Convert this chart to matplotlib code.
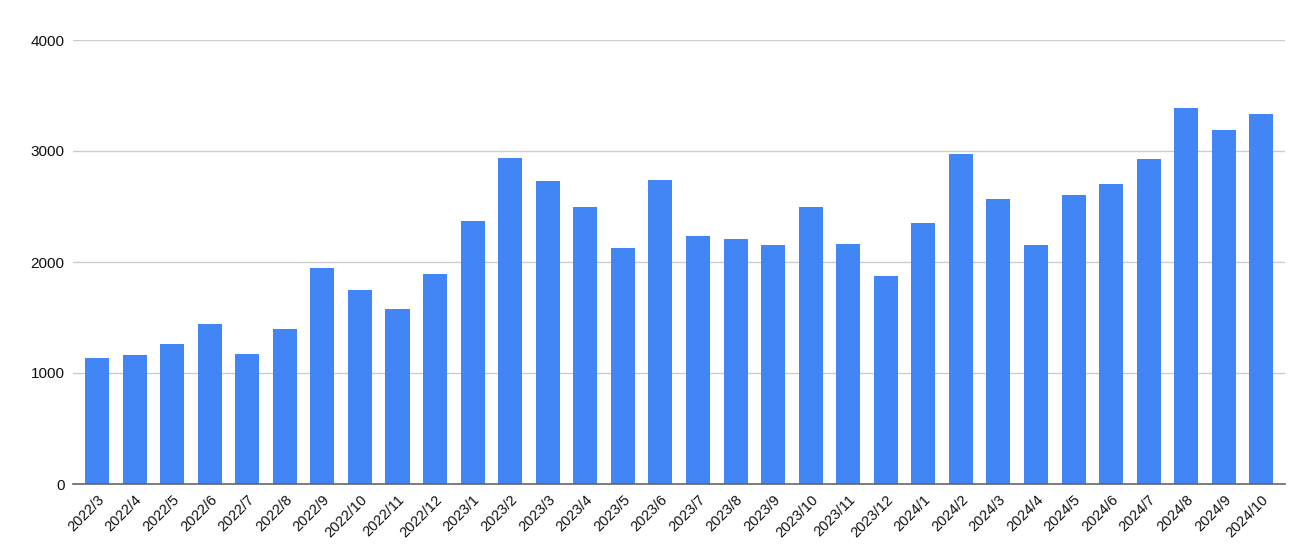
import matplotlib
matplotlib.use("Agg")
import matplotlib.pyplot as plt

months = ["2022/3", "2022/4", "2022/5", "2022/6", "2022/7", "2022/8", "2022/9", "2022/10",
          "2022/11", "2022/12", "2023/1", "2023/2", "2023/3", "2023/4", "2023/5", "2023/6",
          "2023/7", "2023/8", "2023/9", "2023/10", "2023/11", "2023/12", "2024/1", "2024/2",
          "2024/3", "2024/4", "2024/5", "2024/6", "2024/7", "2024/8", "2024/9", "2024/10"]
values = [1135, 1160, 1260, 1440, 1170, 1400, 1950, 1750,
          1580, 1890, 2370, 2940, 2730, 2500, 2130, 2740,
          2230, 2210, 2150, 2500, 2160, 1870, 2350, 2970,
          2570, 2150, 2600, 2700, 2930, 3390, 3190, 3330]
y_ticks = [0, 1000, 2000, 3000, 4000]

plt.rcParams['font.family'] = ['Liberation Sans', 'DejaVu Sans']
fig = plt.figure(figsize=(13.07, 5.6), dpi=100)
ax = fig.add_axes([73/1307, 76/560, 1212/1307, 444/560])

x = list(range(len(months)))
ax.bar(x, values, width=0.64, color="#4285F4", zorder=3)

ax.set_ylim(0, 4000)
ax.set_xlim(-0.64, len(months) - 0.37)
ax.set_yticks(y_ticks)
ax.set_yticklabels([str(v) for v in y_ticks], fontsize=11, color="#111111")
ax.set_xticks(x)
ax.set_xticklabels(months, rotation=45, ha="right", rotation_mode="anchor", fontsize=10.5, color="#111111")
ax.grid(axis="y", color="#cccccc", linewidth=1, zorder=0)
ax.tick_params(axis="both", length=0, pad=6)
for s in ["top", "right", "left"]:
    ax.spines[s].set_visible(False)
ax.spines["bottom"].set_color("#666666")
ax.spines["bottom"].set_linewidth(1.2)
ax.spines["bottom"].set_zorder(4)

fig.savefig("out.png", dpi=100)
